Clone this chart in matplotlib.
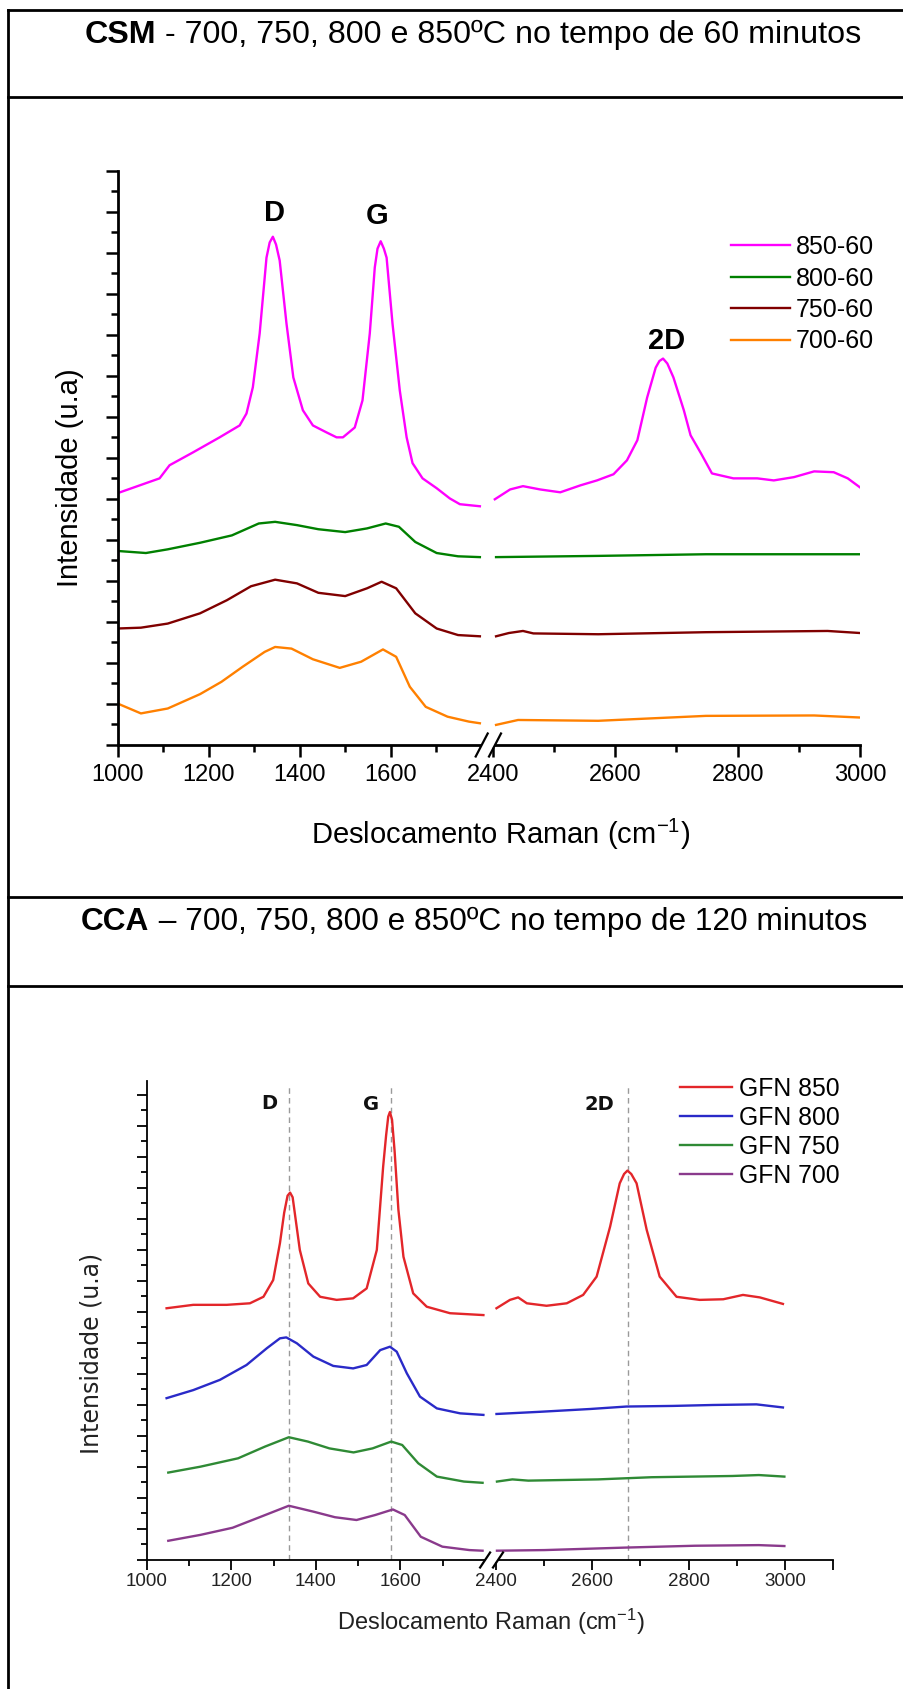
import numpy as np
import matplotlib
matplotlib.use("Agg")
import matplotlib.pyplot as plt
from matplotlib.lines import Line2D
from matplotlib.ticker import FixedLocator, NullFormatter

plt.rcParams["font.family"] = ["Liberation Sans", "DejaVu Sans"]
plt.rcParams["mathtext.fontset"] = "custom"
plt.rcParams["mathtext.rm"] = "Liberation Sans"
plt.rcParams["mathtext.it"] = "Liberation Sans:italic"
plt.rcParams["mathtext.bf"] = "Liberation Sans:bold"

W, H = 904, 1689

# ---- CSM (60 min) spectra ----
csm_labels = ["850-60", "800-60", "750-60", "700-60"]
csm_colors = ["#ff00ff", "#008000", "#800000", "#ff8000"]

csm_850_x = [1000, 1092, 1114, 1165, 1224, 1268, 1283, 1297, 1312, 1327, 1334, 1341, 1348,
             1356, 1371, 1386, 1407, 1429, 1459, 1481, 1495, 1521, 1538, 1554, 1565, 1571,
             1578, 1585, 1591, 1604, 1620, 1635, 1648, 1670, 1701, 1730, 1752, 1796,
             2403, 2428, 2449, 2477, 2510, 2543, 2570, 2597, 2619, 2636, 2652, 2666, 2672,
             2678, 2685, 2695, 2712, 2723, 2740, 2758, 2793, 2832, 2859, 2892, 2925, 2957,
             2980, 3000]
csm_850_y = [6.14, 6.50, 6.82, 7.13, 7.50, 7.79, 8.08, 8.72, 10.03, 11.88, 12.25, 12.39, 12.2,
             11.81, 10.27, 8.96, 8.16, 7.79, 7.62, 7.50, 7.50, 7.74, 8.40, 10.03, 11.64, 12.1,
             12.28, 12.1, 11.88, 10.27, 8.64, 7.50, 6.87, 6.50, 6.26, 6.01, 5.87, 5.82,
             5.99, 6.23, 6.31, 6.23, 6.16, 6.33, 6.45, 6.60, 6.94, 7.43, 8.47, 9.20, 9.36,
             9.42, 9.30, 8.96, 8.16, 7.55, 7.11, 6.62, 6.50, 6.50, 6.45, 6.53, 6.67, 6.65,
             6.50, 6.28]

csm_800_x = [1000, 1062, 1110, 1181, 1251, 1310, 1346, 1394, 1441, 1500, 1548, 1589, 1618,
             1654, 1701, 1748, 1796, 2405, 2572, 2748, 3000]
csm_800_y = [4.73, 4.68, 4.77, 4.93, 5.11, 5.40, 5.44, 5.36, 5.26, 5.19, 5.28, 5.40, 5.32,
             4.95, 4.68, 4.60, 4.58, 4.58, 4.61, 4.65, 4.65]

csm_750_x = [1000, 1051, 1110, 1181, 1240, 1293, 1346, 1394, 1441, 1500, 1548, 1580, 1612,
             1654, 1701, 1748, 1796, 2405, 2426, 2449, 2466, 2572, 2748, 2947, 3000]
csm_750_y = [2.84, 2.86, 2.96, 3.21, 3.53, 3.87, 4.03, 3.94, 3.71, 3.63, 3.82, 3.98, 3.82,
             3.21, 2.84, 2.68, 2.65, 2.65, 2.73, 2.78, 2.72, 2.70, 2.75, 2.78, 2.73]

csm_700_x = [1000, 1051, 1110, 1181, 1228, 1275, 1323, 1346, 1382, 1429, 1488, 1535, 1583,
             1612, 1642, 1677, 1725, 1772, 1796, 2405, 2441, 2572, 2660, 2748, 2925, 3000]
csm_700_y = [1.01, 0.77, 0.89, 1.24, 1.54, 1.91, 2.27, 2.39, 2.35, 2.09, 1.88, 2.03, 2.33,
             2.15, 1.42, 0.93, 0.69, 0.57, 0.53, 0.49, 0.61, 0.59, 0.65, 0.71, 0.72, 0.67]

# ---- CCA (120 min) spectra ----
cca_labels = ["GFN 850", "GFN 800", "GFN 750", "GFN 700"]
cca_colors = ["#e3262a", "#2a2ac8", "#2f8a35", "#8a3a8c"]

cca_850_x = [1047, 1110, 1189, 1244, 1276, 1299, 1315, 1325, 1333, 1339, 1345, 1352, 1362,
             1382, 1410, 1449, 1488, 1520, 1544, 1559, 1566, 1571, 1575, 1580, 1586, 1595,
             1607, 1630, 1662, 1717, 1796,
             2401, 2429, 2446, 2464, 2505, 2547, 2581, 2609, 2637, 2657, 2666, 2673, 2681,
             2692, 2713, 2740, 2775, 2823, 2872, 2913, 2948, 2996]
cca_850_y = [8.12, 8.23, 8.23, 8.28, 8.49, 9.03, 10.22, 11.2, 11.75, 11.85, 11.7, 11.0, 10.00,
             8.92, 8.49, 8.39, 8.44, 8.76, 10.00, 12.69, 13.7, 14.3, 14.45, 14.2, 13.2, 11.3,
             9.78, 8.60, 8.17, 7.96, 7.90,
             8.12, 8.39, 8.47, 8.28, 8.20, 8.28, 8.55, 9.14, 10.75, 12.15, 12.45, 12.56, 12.45,
             12.15, 10.65, 9.14, 8.49, 8.39, 8.41, 8.55, 8.47, 8.26]

cca_800_x = [1047, 1110, 1173, 1236, 1284, 1315, 1330, 1355, 1394, 1441, 1488, 1520, 1552,
             1575, 1591, 1615, 1646, 1686, 1741, 1796, 2401, 2491, 2595, 2671, 2768, 2851,
             2941, 2996]
cca_800_y = [5.22, 5.48, 5.81, 6.29, 6.83, 7.15, 7.18, 6.99, 6.56, 6.26, 6.18, 6.29, 6.77,
             6.88, 6.72, 6.02, 5.27, 4.89, 4.73, 4.68, 4.71, 4.78, 4.87, 4.95, 4.97, 5.00,
             5.02, 4.92]

cca_750_x = [1051, 1127, 1216, 1280, 1336, 1381, 1432, 1489, 1534, 1578, 1604, 1642, 1686,
             1750, 1794, 2402, 2434, 2467, 2612, 2723, 2891, 2946, 2999]
cca_750_y = [2.82, 3.01, 3.28, 3.66, 3.96, 3.82, 3.60, 3.47, 3.60, 3.82, 3.71, 3.12, 2.69,
             2.53, 2.49, 2.53, 2.60, 2.56, 2.60, 2.67, 2.71, 2.74, 2.69]

cca_700_x = [1051, 1127, 1203, 1280, 1336, 1394, 1445, 1496, 1540, 1582, 1610, 1648, 1699,
             1763, 1794, 2402, 2501, 2668, 2813, 2946, 2999]
cca_700_y = [0.62, 0.81, 1.04, 1.45, 1.75, 1.56, 1.38, 1.29, 1.45, 1.63, 1.45, 0.75, 0.43,
             0.32, 0.30, 0.30, 0.32, 0.40, 0.46, 0.48, 0.45]

cca_peak_pos = [1337, 1577, 2674]
peak_names = ["D", "G", "2D"]

x_major = [1000, 1200, 1400, 1600, 2400, 2600, 2800, 3000]
x_minor = [1100, 1300, 1500, 1700, 2500, 2700, 2900]


def fig_px(x, y):
    return x / W, 1 - y / H


def px_axes(fig, left, top, right, bottom):
    return fig.add_axes([left / W, 1 - bottom / H, (right - left) / W, (bottom - top) / H])


def broken_scale(xs, ps):
    xs = np.asarray(xs, float)
    ps = np.asarray(ps, float)

    def interp(v, a, b):
        v = np.asarray(v, float)
        out = np.interp(v, a, b)
        lo = (b[1] - b[0]) / (a[1] - a[0])
        hi = (b[-1] - b[-2]) / (a[-1] - a[-2])
        out = np.where(v < a[0], b[0] + (v - a[0]) * lo, out)
        out = np.where(v > a[-1], b[-1] + (v - a[-1]) * hi, out)
        return out

    return (lambda v: interp(v, xs, ps)), (lambda v: interp(v, ps, xs))


def split(x, y):
    # NaN between the two spectral windows so the line has a gap at the break
    x = np.asarray(x, float)
    y = np.asarray(y, float)
    i = np.argmax(np.diff(x) > 300) + 1
    return np.insert(x, i, np.nan), np.insert(y, i, np.nan)


def draw_break(fig, ax, dx, dy, gap_lw):
    tr = ax.transData
    x1 = tr.transform((1800, 0))[0]
    x2 = tr.transform((2400, 0))[0] + 2
    y0 = tr.transform((1800, 0))[1]
    fig.add_artist(Line2D([x1 / W, x2 / W], [y0 / H, y0 / H], color="white",
                          lw=gap_lw, transform=fig.transFigure, solid_capstyle="butt"))
    for xc in (x1, x2):
        fig.add_artist(Line2D([(xc - dx) / W, (xc + dx) / W],
                              [(y0 - dy) / H, (y0 + dy) / H],
                              color="black", lw=1.6, transform=fig.transFigure))


def header(fig, bold, rest, cx, base_y, size):
    t1 = fig.text(0, 0, bold, fontsize=size, fontweight="bold", va="baseline", ha="left")
    t2 = fig.text(0, 0, rest, fontsize=size, va="baseline", ha="left")
    r = fig.canvas.get_renderer()
    w1 = t1.get_window_extent(r).width
    w2 = t2.get_window_extent(r).width
    x0 = cx - (w1 + w2) / 2
    t1.set_position(fig_px(x0, base_y))
    t2.set_position(fig_px(x0 + w1, base_y))


fig = plt.figure(figsize=(W / 100, H / 100), dpi=100)
fig.patch.set_facecolor("white")

# table frame
frame = dict(color="black", lw=2.0, transform=fig.transFigure)
fig.add_artist(Line2D([8 / W, 1], [1 - 10 / H] * 2, **frame))
fig.add_artist(Line2D([8 / W, 1], [1 - 97 / H] * 2, **frame))
fig.add_artist(Line2D([8 / W, 1], [1 - 897 / H] * 2, **frame))
fig.add_artist(Line2D([8 / W, 1], [1 - 986 / H] * 2, **frame))
fig.add_artist(Line2D([8 / W] * 2, [1 - 10 / H, 0], **frame))

header(fig, "CSM", " - 700, 750, 800 e 850ºC no tempo de 60 minutos", 473, 43, 23.2)
header(fig, "CCA", " – 700, 750, 800 e 850ºC no tempo de 120 minutos", 474, 930, 22.8)

# ---------------- top chart ----------------
ax1 = px_axes(fig, 117.7, 170.7, 860, 745)
fwd, inv = broken_scale([1000, 1800, 2400, 3000], [0, 364, 375.3, 742.3])
ax1.set_xscale("function", functions=(fwd, inv))
ax1.set_xlim(1000, 3000)
ax1.set_ylim(0, 14)

series1 = [(csm_850_x, csm_850_y), (csm_800_x, csm_800_y),
           (csm_750_x, csm_750_y), (csm_700_x, csm_700_y)]
for (x, y), c, lab in zip(series1, csm_colors, csm_labels):
    xs, ys = split(x, y)
    ax1.plot(xs, ys, color=c, lw=1.7, label=lab)

for name, px, py in zip(peak_names, [1345, 1570, 2683], [12.98, 12.9, 9.84]):
    ax1.text(px, py, name, fontsize=21, fontweight="bold", ha="center", va="center")

ax1.xaxis.set_major_locator(FixedLocator(x_major))
ax1.xaxis.set_minor_locator(FixedLocator(x_minor))
ax1.set_xticklabels([str(v) for v in x_major])
ax1.yaxis.set_major_locator(FixedLocator(np.arange(0, 15)))
ax1.yaxis.set_minor_locator(FixedLocator(np.arange(0.5, 14, 1)))
ax1.yaxis.set_major_formatter(NullFormatter())
for s in ["top", "right"]:
    ax1.spines[s].set_visible(False)
for s in ["left", "bottom"]:
    ax1.spines[s].set_linewidth(2.0)
ax1.tick_params(which="major", direction="out", length=8.6, width=1.8, labelsize=17, pad=5)
ax1.tick_params(which="minor", direction="out", length=5, width=1.8)

ax1.legend(loc="upper left", bbox_to_anchor=fig_px(731, 235), bbox_transform=fig.transFigure,
           frameon=False, fontsize=18, handlelength=2.36, handletextpad=0.24,
           labelspacing=0.3, borderpad=0, borderaxespad=0)

fig.text(*fig_px(70, 478), "Intensidade (u.a)", rotation=90, fontsize=21,
         ha="center", va="center")
fig.text(*fig_px(501, 834), "Deslocamento Raman (cm$^{-1}$)", fontsize=21,
         ha="center", va="center")

# ---------------- bottom chart ----------------
ax2 = px_axes(fig, 146.7, 1081, 833, 1560)
fwd2, inv2 = broken_scale([1000, 1800, 2400, 3100], [0, 338.4, 349.3, 686.3])
ax2.set_xscale("function", functions=(fwd2, inv2))
ax2.set_xlim(1000, 3100)
ax2.set_ylim(0, 15.45)

ax2.vlines(cca_peak_pos, 0, 15.3, colors="#9a9a9a", linestyles=(0, (4, 3)), lw=1.0)

series2 = [(cca_850_x, cca_850_y), (cca_800_x, cca_800_y),
           (cca_750_x, cca_750_y), (cca_700_x, cca_700_y)]
for (x, y), c, lab in zip(series2, cca_colors, cca_labels):
    xs, ys = split(x, y)
    ax2.plot(xs, ys, color=c, lw=1.7, label=lab)

for name, px, py in zip(peak_names, [1291, 1530, 2614], [14.74, 14.68, 14.68]):
    ax2.text(px, py, name, fontsize=14, fontweight="bold", family="DejaVu Sans",
             ha="center", va="center", color="#111111")

ax2.xaxis.set_major_locator(FixedLocator(x_major + [3100]))
ax2.xaxis.set_minor_locator(FixedLocator(x_minor))
ax2.set_xticklabels([str(v) for v in x_major] + [""])
ax2.yaxis.set_major_locator(FixedLocator(np.arange(0, 16)))
ax2.yaxis.set_minor_locator(FixedLocator(np.arange(0.5, 15.5, 1)))
ax2.yaxis.set_major_formatter(NullFormatter())
for s in ["top", "right"]:
    ax2.spines[s].set_visible(False)
for s in ["left", "bottom"]:
    ax2.spines[s].set_linewidth(1.3)
ax2.tick_params(which="major", direction="out", length=7, width=1.3, labelsize=13.5,
                pad=2, labelcolor="#222222")
ax2.tick_params(which="minor", direction="out", length=4, width=1.3)

ax2.legend(loc="upper left", bbox_to_anchor=fig_px(680, 1077), bbox_transform=fig.transFigure,
           frameon=False, fontsize=17.8, handlelength=2.1, handletextpad=0.3,
           labelspacing=0.2, borderpad=0, borderaxespad=0)

fig.text(*fig_px(92, 1353), "Intensidade (u.a)", rotation=90, fontsize=17,
         family="DejaVu Sans", ha="center", va="center", color="#222222")
fig.text(*fig_px(491, 1622), "Deslocamento Raman (cm$^{-1}$)", fontsize=17,
         ha="center", va="center", color="#222222")

draw_break(fig, ax1, 6, 11.5, 4)
draw_break(fig, ax2, 5, 7.5, 3)

fig.savefig("out.png", dpi=100, facecolor="white")
